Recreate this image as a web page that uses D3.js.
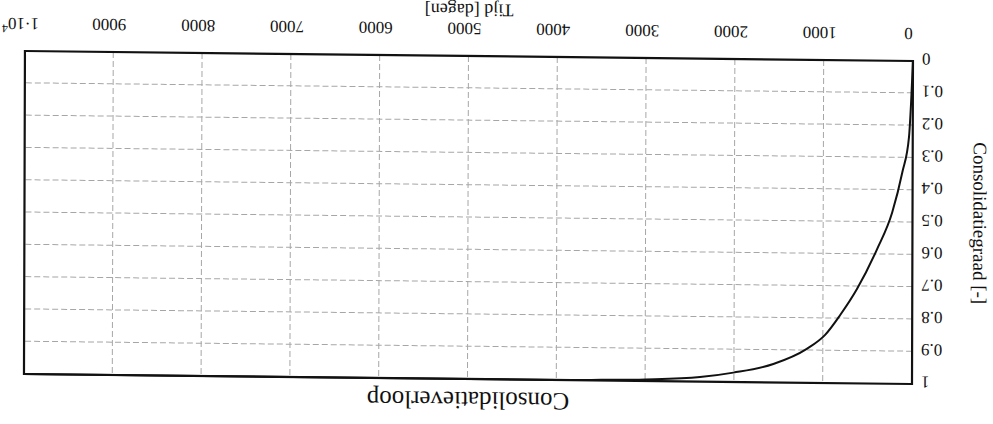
<!DOCTYPE html>
<html>
<head>
<meta charset="utf-8">
<script src="https://cdn.jsdelivr.net/npm/d3@7"></script>
<style>
  html, body { margin: 0; padding: 0; background: #fff; }
  svg { display: block; }
  text { font-family: "Liberation Serif", "Times New Roman", serif; fill: #111; }
</style>
</head>
<body>
<svg id="chart" width="993" height="424"></svg>
<script>
// Consolidation degree U [-] against time t [days]
const timeDays = [0, 20, 42, 116, 229, 400, 623, 811, 980, 1186, 1562, 2012, 2387, 3000, 3500, 4000, 6000, 8000, 10000];
const consolidation = [0, 0.13, 0.235, 0.345, 0.47, 0.585, 0.708, 0.789, 0.851, 0.895, 0.943, 0.971, 0.986, 0.995, 0.998, 1, 1, 1, 1];

const xTicks = [0, 1000, 2000, 3000, 4000, 5000, 6000, 7000, 8000, 9000, 10000];
const yTicks = [0, 0.1, 0.2, 0.3, 0.4, 0.5, 0.6, 0.7, 0.8, 0.9, 1];

const title = "Consolidatieverloop";
const xTitle = "Tijd [dagen]";
const yTitle = "Consolidatiegraad [-]";

const W = 889, H = 323;

const svg = d3.select("#chart");
svg.append("rect").attr("width", 993).attr("height", 424).attr("fill", "#fff");

// the sheet is printed upside down and slightly skewed
const g = svg.append("g")
  .attr("transform", "matrix(-0.9989,-0.01125,0.003,-1,912,384)");

const x = d3.scaleLinear().domain([0, 10000]).range([0, W]);
const y = d3.scaleLinear().domain([0, 1]).range([H, 0]);

// grid
const gridStyle = sel => sel.selectAll("line")
  .attr("stroke", "#a6a6a6").attr("stroke-width", 1).attr("stroke-dasharray", "6,3");

g.append("g").attr("class", "xgrid")
  .attr("transform", `translate(0,${H})`)
  .call(d3.axisBottom(x).tickValues(xTicks.slice(1, -1)).tickSize(-H).tickFormat(""))
  .call(a => a.select(".domain").remove())
  .call(gridStyle);

g.append("g").attr("class", "ygrid")
  .call(d3.axisLeft(y).tickValues(yTicks.slice(1, -1)).tickSize(-W).tickFormat(""))
  .call(a => a.select(".domain").remove())
  .call(gridStyle);

// x axis labels
const xAxis = g.append("g")
  .attr("transform", `translate(0,${H})`)
  .call(d3.axisBottom(x).tickValues(xTicks).tickSize(0)
    .tickFormat(d => d === 10000 ? "1·10" : String(d)));
xAxis.select(".domain").remove();
xAxis.selectAll("text")
  .attr("y", 33).attr("dy", null).attr("dx", 4)
  .style("font-size", "17px").attr("fill", "#111");
xAxis.selectAll(".tick").filter(d => d === 10000).select("text")
  .append("tspan").attr("dy", "-0.55em").style("font-size", "12px").text("4");

// y axis labels
const yAxis = g.append("g")
  .call(d3.axisLeft(y).tickValues(yTicks).tickSize(0).tickPadding(9)
    .tickFormat(d => (d === 0 || d === 1) ? String(d) : d.toFixed(1)));
yAxis.select(".domain").remove();
yAxis.selectAll("text").attr("dy", "0.42em").style("font-size", "17px").attr("fill", "#111");

// curve
const line = d3.line()
  .x((d, i) => x(timeDays[i]))
  .y(d => y(d))
  .curve(d3.curveMonotoneX);

g.append("path")
  .datum(consolidation)
  .attr("d", line)
  .attr("fill", "none")
  .attr("stroke", "#111")
  .attr("stroke-width", 2);

// frame
g.append("rect")
  .attr("width", W).attr("height", H)
  .attr("fill", "none").attr("stroke", "#111").attr("stroke-width", 2.2);

// titles
g.append("text")
  .attr("x", W / 2).attr("y", -13)
  .attr("text-anchor", "middle")
  .style("font-size", "25px")
  .text(title);

g.append("text")
  .attr("x", W / 2).attr("y", 375)
  .attr("text-anchor", "middle")
  .style("font-size", "18px")
  .text(xTitle);

g.append("text")
  .attr("transform", `translate(-61,${H / 2}) rotate(-90)`)
  .attr("text-anchor", "middle")
  .style("font-size", "19px")
  .text(yTitle);
</script>
</body>
</html>
